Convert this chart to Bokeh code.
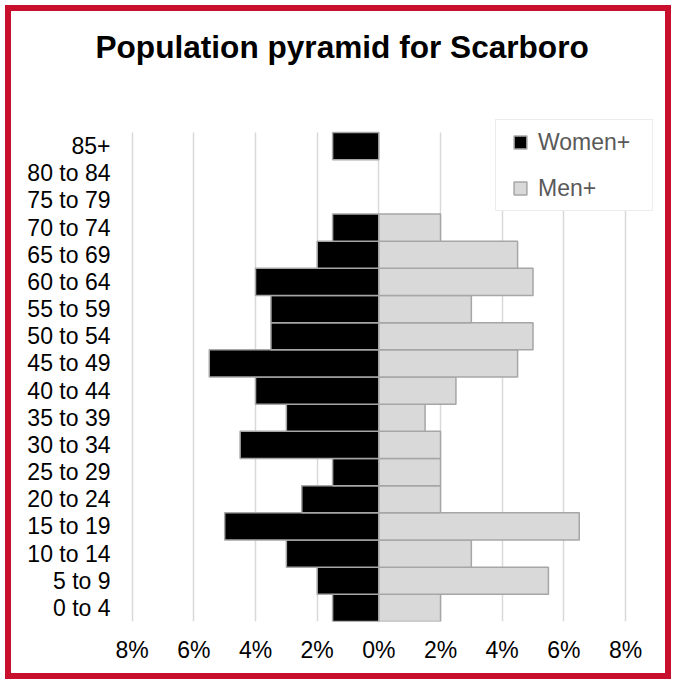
from bokeh.plotting import figure
from bokeh.models import (ColumnDataSource, Range1d, FixedTicker, Legend, LegendItem, Title)
from bokeh.embed import file_html
from bokeh.resources import INLINE

# ---- data ----
age_groups = ["0 to 4", "5 to 9", "10 to 14", "15 to 19", "20 to 24", "25 to 29",
              "30 to 34", "35 to 39", "40 to 44", "45 to 49", "50 to 54", "55 to 59",
              "60 to 64", "65 to 69", "70 to 74", "75 to 79", "80 to 84", "85+"]
women_pct = [1.5, 2.0, 3.0, 5.0, 2.5, 1.5, 4.5, 3.0, 4.0, 5.5, 3.5, 3.5, 4.0, 2.0, 1.5, 0.0, 0.0, 1.5]
men_pct = [2.0, 5.5, 3.0, 6.5, 2.0, 2.0, 2.0, 1.5, 2.5, 4.5, 5.0, 3.0, 5.0, 4.5, 2.0, 0.0, 0.0, 0.0]
tick_values = [-8, -6, -4, -2, 0, 2, 4, 6, 8]
tick_labels = ["8%", "6%", "4%", "2%", "0%", "2%", "4%", "6%", "8%"]
title_text = "Population pyramid for Scarboro"
series_names = ["Women+", "Men+"]

FONT = "Liberation Sans"
# canvas (inside the 6px red CSS border, element placed at 5,5 on the page)
W, H = 666, 674
OX = 11  # canvas origin on the page
FRAME_L, FRAME_R, FRAME_T, FRAME_B = 122 - OX, 655 - OX, 115 - OX, 621 - OX
BAND = 489 / len(age_groups)

pos = list(range(len(age_groups)))
women_src = ColumnDataSource(dict(
    y=[i for i, v in zip(pos, women_pct) if v > 0],
    left=[-v for v in women_pct if v > 0],
    right=[0] * sum(1 for v in women_pct if v > 0)))
men_src = ColumnDataSource(dict(
    y=[i for i, v in zip(pos, men_pct) if v > 0],
    left=[0] * sum(1 for v in men_pct if v > 0),
    right=[v for v in men_pct if v > 0]))

y_lo = -0.5
y_hi = y_lo + (FRAME_B - FRAME_T) / BAND

p = figure(width=W, height=H, output_backend="svg", toolbar_location=None,
           y_range=Range1d(y_lo, y_hi), x_range=Range1d(-8.3146, 8.973),
           min_border_left=FRAME_L, min_border_right=W - FRAME_R,
           min_border_top=FRAME_T, min_border_bottom=H - FRAME_B)
p.styles = {"border": "6px solid #C8102E"}
p.margin = (5, 0, 0, 5)
p.outline_line_color = None
p.background_fill_color = "white"
p.border_fill_color = "white"

# empty default title; spacer title next to the frame, then the real title above it
p.title.text = ""
p.add_layout(Title(text=" ", text_font_size="1px", standoff=48), "above")
p.add_layout(Title(text=title_text, text_font=FONT, text_font_style="bold",
                   text_font_size="31.6px", text_color="#000000",
                   align="left", offset=95 - 122, standoff=0), "above")

p.hbar(y="y", left="left", right="right", height=1.0, source=women_src,
       fill_color="#000000", line_color="#A6A6A6", line_width=1.5)
p.hbar(y="y", left="left", right="right", height=1.0, source=men_src,
       fill_color="#D9D9D9", line_color="#A6A6A6", line_width=1.5)

# legend proxies (not drawn on the plot: NaN position)
nan = float("nan")
rw = p.scatter(x=[nan], y=[nan], marker="square", fill_color="#000000",
               line_color="#A6A6A6", line_width=1.5)
rm = p.scatter(x=[nan], y=[nan], marker="square", fill_color="#D9D9D9",
               line_color="#A6A6A6", line_width=1.5)

p.xgrid.grid_line_color = "#D9D9D9"
p.xgrid.grid_line_width = 1.5
try:
    p.xgrid[0].cross_bounds = (y_lo, len(age_groups) - 0.5)
except Exception:
    pass
p.ygrid.grid_line_color = None

p.xaxis.ticker = FixedTicker(ticks=tick_values)
p.xaxis.major_label_overrides = {v: l for v, l in zip(tick_values, tick_labels)}
p.yaxis.ticker = FixedTicker(ticks=pos)
p.yaxis.major_label_overrides = {i: a for i, a in zip(pos, age_groups)}
for ax in (p.xaxis, p.yaxis):
    ax.axis_line_color = None
    ax.major_tick_line_color = None
    ax.minor_tick_line_color = None
    ax.major_tick_in = 0
    ax.major_tick_out = 0
    ax.major_label_text_font = FONT
    ax.major_label_text_font_size = "23px"
    ax.major_label_text_color = "#000000"
p.xaxis.major_label_standoff = 15
p.yaxis.major_label_standoff = 12

legend = Legend(items=[LegendItem(label=series_names[0], renderers=[rw]),
                       LegendItem(label=series_names[1], renderers=[rm])],
                location=(495 - 122, 621 - 211), orientation="vertical",
                glyph_width=36, glyph_height=32, label_standoff=0,
                label_width=108, label_height=25, spacing=14, padding=6, margin=0,
                label_text_font=FONT, label_text_font_size="23px", label_text_color="#595959",
                border_line_color="#D9D9D9", border_line_width=1.5,
                background_fill_color="white", background_fill_alpha=1.0)
p.add_layout(legend)

open("out.html", "w").write(file_html(p, INLINE))
